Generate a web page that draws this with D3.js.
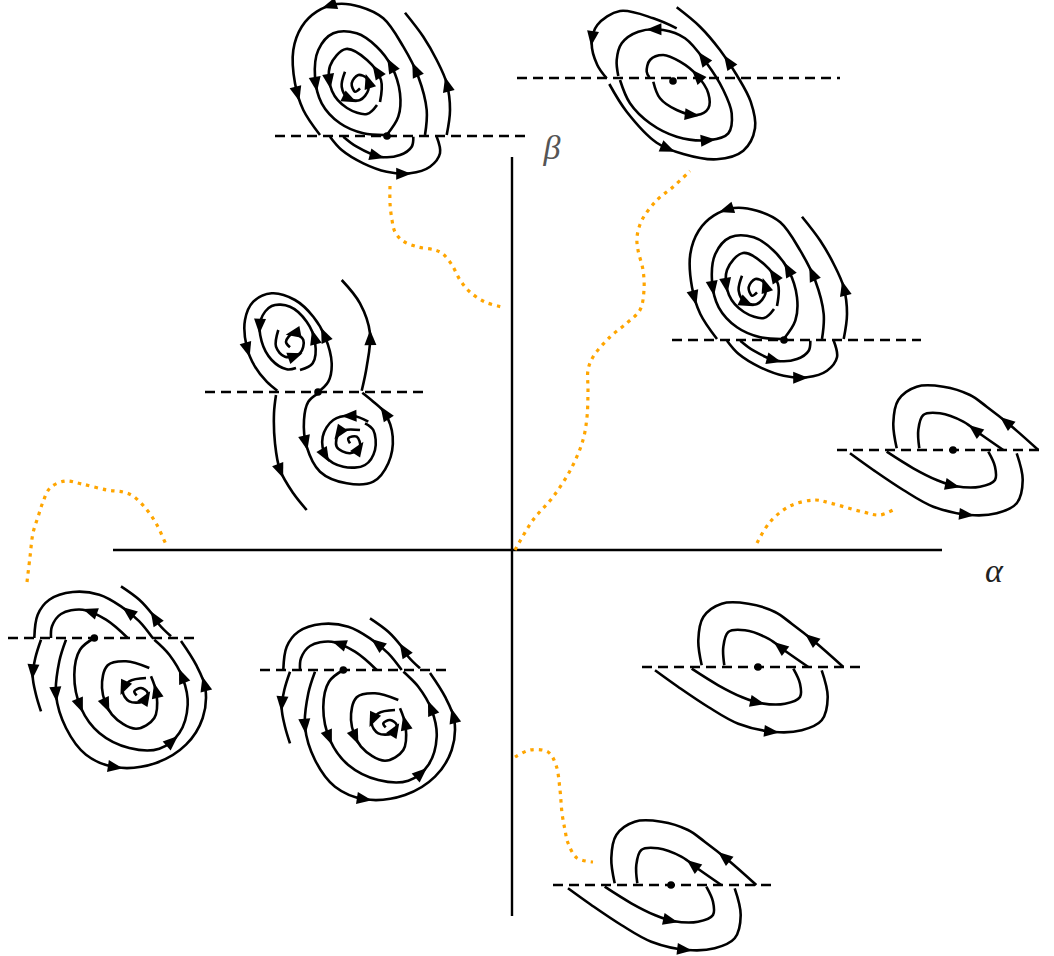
<!DOCTYPE html>
<html>
<head>
<meta charset="utf-8">
<script src="https://cdn.jsdelivr.net/npm/d3@7"></script>
<style>
  body { margin: 0; background: #fff; }
</style>
</head>
<body>
<div id="chart"></div>
<script>
const width = 1054;
const height = 956;

// parameter plane (alpha, beta), origin where the two axes cross
const alphaAxis = [-399, 430];
const betaAxis = [-366, 393];
const axisLabels = ["α", "β"];

// orange dotted bifurcation curves, [alpha, beta]
const curveNW = [[-122,364],[-122,347],[-120,330],[-117,318],[-109,309],[-94,303],[-77,300],[-69,296],[-60,285],[-52,270],[-42,258],[-27,248],[-10,243]];
const curveNE = [[3,0],[21,30],[41,53],[60,83],[71,110],[75,133],[76,160],[76,180],[81,193],[98,213],[115,227],[128,240],[132,260],[131,280],[126,300],[125,313],[130,330],[145,350],[161,363],[178,379]];
const curveW = [[-485,-32],[-482,-7],[-479,17],[-474,33],[-469,48],[-462,62],[-447,69],[-430,66],[-405,60],[-389,58],[-379,54],[-365,40],[-355,25],[-345,3]];
const curveE = [[245,7],[258,28],[278,44],[303,50],[318,47],[351,38],[368,35],[383,41]];
const curveS = [[3,-207],[18,-200],[36,-202],[44,-215],[48,-240],[50,-263],[53,-280],[56,-293],[65,-308],[81,-312]];
const bifCurves = [curveNW, curveNE, curveW, curveE, curveS];

// phase portrait pieces, local coords (y down), arrow positions as fraction of length
// focus above the section line
const focusOuter = { pts: [[73,47],[74.7,22],[66.3,-11.3],[51.3,-41.3],[31.3,-69.7],[8,-81.3],[-15.3,-84],[-35.3,-76.3],[-50.3,-61.3],[-58.7,-38],[-57,-4.7],[-48.7,22],[-32,47]], arrows: [0.2, 0.55, 0.86] };
const focusUOuter = { pts: [[-22,48.7],[-10.3,62],[11.3,75.3],[34.7,83.7],[58,85.3],[78,78.7],[88,65.3],[84.7,48.7]], arrows: [0.58] };
const focusUInner = { pts: [[-8.7,48.7],[4.7,58.7],[28,68.7],[48,67],[59.7,58.7],[61.3,48.7]], arrows: [0.45] };
const focusEscape = { pts: [[94.7,47],[98,22],[94.7,-4.7],[84.7,-28],[71.3,-51.3],[53,-75.3]], arrows: [0.38] };
const focusRing3 = { pts: [[34.7,47],[46.3,28.7],[48,5.3],[39.7,-21.3],[24.7,-41.3],[4.7,-54.7],[-18.7,-54.7],[-33.7,-38],[-37,-11.3],[-30.3,15.3],[-12,35.3],[11.3,45.3],[34.7,47]], arrows: [0.25, 0.68] };
const focusRing2 = { pts: [[28,14],[29,-8],[15,-28],[-6,-39],[-22,-22],[-20,3],[-5,20],[15,26],[25,17]], arrows: [0.18, 0.62] };
const focusCore = { pts: [[-7,-16.3],[-10.3,-1.3],[-3.7,10.3],[8,12],[16.3,2],[14.7,-9.7],[6.3,-13],[-0.3,-4.7],[3,3.7],[8,0.3]], arrows: [0.3, 0.62] };
const focusDots = [[35,48]];
const focusTemplate = [focusOuter, focusUOuter, focusUInner, focusEscape, focusRing3, focusRing2, focusCore];

// focus below the section line
const lowLeftDrop = { pts: [[-95,-51.3],[-100.7,-33],[-103.3,-14.7],[-100,3.7],[-95,20.3]], arrows: [0.45] };
const lowCapOuter = { pts: [[16.7,-53],[3.3,-69.7],[-15,-84.7],[-36.7,-96.3],[-63.3,-99],[-86.7,-91.3],[-98.3,-76.3],[-101.7,-53]], arrows: [0.22] };
const lowCapInner = { pts: [[-8.3,-53],[-30,-71.3],[-53.3,-81.3],[-75,-77],[-84,-64.7],[-85,-53]], arrows: [0.45] };
const lowEscape = { pts: [[35,-54.7],[23.3,-66.3],[16.7,-76.3],[3.3,-91.3],[-15,-104.7]], arrows: [0.35] };
const lowOuter = { pts: [[-70,-51.3],[-76.7,-29.7],[-80,3.7],[-70,37],[-50,63.7],[-20,76.3],[20,72],[50,53.7],[66.7,27],[69.3,-3],[60,-26.3],[45,-50]], arrows: [0.16, 0.45, 0.86] };
const lowRingB = { pts: [[-41.7,-53],[-56,-41.3],[-61.7,-16.3],[-55,17],[-36.7,42],[-6.7,57],[23.3,57.7],[43.3,42],[51.7,13.7],[46.7,-13],[33.3,-36.3],[18.3,-51.3]], arrows: [0.25, 0.62, 0.85] };
const lowRingA = { pts: [[13.3,-23],[-10,-29.7],[-28.3,-25.7],[-34,-3],[-24,23.7],[0,37.7],[18.3,27],[20.7,3.7],[15,-14.7]], arrows: [0.45, 0.92] };
const lowCore = { pts: [[10,-13],[-6.7,-9.7],[-13.3,0.3],[-6.7,10.3],[6.7,10.3],[11.7,2],[5,-3],[-1.7,0.3],[0.7,4.3]], arrows: [0.3, 0.7] };
const lowDots = [[-41.7,-53]];
const lowTemplate = [lowLeftDrop, lowCapOuter, lowCapInner, lowEscape, lowOuter, lowRingB, lowRingA, lowCore];

// single focus crossing the section line
const nodeInner = { pts: [[-19.7,0.7],[-13,17.3],[3.7,29],[23.7,34],[35.3,27.3],[35.3,12.3],[23.7,-6],[7,-19.3],[-9.7,-26],[-23,-21],[-26.3,-9.3],[-23.7,-3.7]], arrows: [0.3, 0.6] };
const nodeMiddle = { pts: [[-53,-1],[-43,22.3],[-23,42.3],[3.7,55.7],[37,59],[55.3,52.3],[58.7,32.3],[50.3,9],[33.7,-17.7],[12,-42.7],[-9.7,-51],[-34.7,-49.3],[-51.3,-37.7],[-56.3,-21],[-54.7,-5]], arrows: [0.33, 0.63, 0.8] };
const nodeOuterTop = { pts: [[3.7,-52.7],[-19.7,-62.7],[-53,-70],[-75.7,-56],[-81.3,-37.7],[-75.7,-16],[-66.3,-2.7]], arrows: [0.7] };
const nodeOuterLow = { pts: [[-63.7,3],[-46.3,30.7],[-16.3,61.7],[10.3,73],[43.7,78.3],[70.3,69.7],[82,47.3],[77.7,20.7],[63.7,-6],[47,-31],[27,-54.3],[3.7,-73.7]], arrows: [0.26, 0.78] };
const nodeDots = [[0,0]];
const nodeTemplate = [nodeInner, nodeMiddle, nodeOuterTop, nodeOuterLow];

// two foci joined at a point on the line
const twinUpper = { pts: [[-0.7,0.7],[10.3,-10.3],[13.7,-28.7],[7,-55.3],[-4.7,-75.3],[-23,-92],[-46.3,-98.7],[-64.7,-90.3],[-73,-72],[-71.3,-45.3],[-63,-25.3],[-51.3,-10.3],[-40.7,-1.3]], arrows: [0.25, 0.8] };
const twinDescend = { pts: [[-42,3],[-44,21.3],[-43,51.3],[-38,78],[-24.7,101.3],[-11.3,118]], arrows: [0.62] };
const twinUpperRing = { pts: [[-18,-22],[-5.3,-28.7],[-3,-50.3],[-11.3,-70.3],[-28,-85.3],[-46.3,-86],[-57.3,-72],[-56.3,-50.3],[-46.3,-32],[-31.3,-22.7],[-22,-24]], arrows: [0.22, 0.66] };
const twinUpperCore = { pts: [[-39.7,-62],[-42,-45.3],[-33,-35.3],[-18,-38.7],[-14.7,-52],[-24.7,-58.7],[-32,-50.3],[-28,-44.7]], arrows: [0.45, 0.8] };
const twinLower = { pts: [[0.3,1.3],[-9.7,9.7],[-14,28],[-11.3,54.7],[2,79.7],[28.7,91.3],[55.3,89.7],[70.3,71.3],[74.7,44.7],[67,21.3],[55.3,9.7],[44.3,0.7]], arrows: [0.22, 0.88] };
const twinAscend = { pts: [[43.7,-1.3],[48.7,-25.3],[52,-58.7],[42,-88.7],[23.7,-112]], arrows: [0.45] };
const twinLowerRing = { pts: [[50.3,29.7],[35.3,24],[15.3,28],[4.7,44.7],[8,64.7],[25.3,74.7],[47,73],[57,58],[55.3,38],[47,31.3]], arrows: [0.12, 0.45] };
const twinLowerCore = { pts: [[42,38],[22,39.7],[18.7,54.7],[32,61.3],[42,54.7],[38.7,44.7],[30.3,46.3],[32,51.3]], arrows: [0.25, 0.7] };
const twinDots = [[0,0]];
const twinTemplate = [twinUpper, twinDescend, twinUpperRing, twinUpperCore, twinLower, twinAscend, twinLowerRing, twinLowerCore];

// hooks around a point on the line
const hookCapOuter = { pts: [[85.3,0],[57,-25],[33.7,-43.3],[17,-55],[-9.7,-63.3],[-36.3,-63.3],[-54.7,-50],[-59.7,-26.7],[-56.3,-1.7]], arrows: [0.2] };
const hookCapInner = { pts: [[50.3,0],[28.7,-15],[10.3,-28.3],[-13,-36.7],[-29.7,-35],[-34.7,-20],[-33.7,-1.7]], arrows: [0.28] };
const hookUInner = { pts: [[-66.3,1.7],[-39.7,18.3],[-16.3,30],[2,36],[27,36.7],[42,30],[42,16.7],[35.3,1.7]], arrows: [0.5] };
const hookUOuter = { pts: [[-103,3.3],[-79.7,20],[-49.7,40],[-19.7,56.7],[17,65],[43.7,63.3],[63.7,53.3],[69.7,30],[63.7,3.3]], arrows: [0.56] };
const hookDots = [[0,0]];
const hookTemplate = [hookCapOuter, hookCapInner, hookUInner, hookUOuter];

// placement of each portrait in the (alpha, beta) plane
const portraitNames = ["P1", "P2", "P3", "P4", "P5", "P6", "P7", "P8", "P9"];
const portraitTemplates = [focusTemplate, nodeTemplate, focusTemplate, twinTemplate, hookTemplate, lowTemplate, lowTemplate, hookTemplate, hookTemplate];
const portraitDots = [focusDots, nodeDots, focusDots, twinDots, hookDots, lowDots, lowDots, hookDots, hookDots];
const portraitAt = [[-160,462],[161,469],[237,258],[-194,158],[441,100],[-376,-141],[-127,-173],[246,-117],[159,-335]];
const sectionLines = [[-77,173,48],[-156,167,-3],[-77,172,48],[-113,110,0],[-116,87,0],[-128,61,-53],[-125,65,-53],[-116,105,0],[-118,104,0]];

const svg = d3.select("#chart").append("svg")
  .attr("width", width)
  .attr("height", height)
  .style("font-family", "'Liberation Serif', 'DejaVu Serif', serif");

const x = d3.scaleLinear().domain([-512, 542]).range([0, width]);
const y = d3.scaleLinear().domain([-406, 550]).range([height, 0]);

// axes
svg.append("line")
  .attr("x1", x(alphaAxis[0])).attr("x2", x(alphaAxis[1]))
  .attr("y1", y(0)).attr("y2", y(0))
  .attr("stroke", "#000").attr("stroke-width", 2.4);
svg.append("line")
  .attr("x1", x(0)).attr("x2", x(0))
  .attr("y1", y(betaAxis[0])).attr("y2", y(betaAxis[1]))
  .attr("stroke", "#000").attr("stroke-width", 2.4);
svg.append("text")
  .attr("x", x(alphaAxis[1]) + 52).attr("y", y(0) + 32)
  .attr("text-anchor", "middle").attr("font-style", "italic")
  .attr("font-size", 34).attr("fill", "#222")
  .text(axisLabels[0]);
svg.append("text")
  .attr("x", x(0) + 40).attr("y", y(betaAxis[1]) + 2)
  .attr("text-anchor", "middle").attr("font-style", "italic")
  .attr("font-size", 34).attr("fill", "#555")
  .text(axisLabels[1]);

// bifurcation curves
const bifLine = d3.line()
  .x((d) => x(d[0]))
  .y((d) => y(d[1]))
  .curve(d3.curveCatmullRom.alpha(0.5));

svg.selectAll(".bif")
  .data(bifCurves)
  .enter()
  .append("path")
  .attr("class", "bif")
  .attr("d", bifLine)
  .attr("fill", "none")
  .attr("stroke", "#ffa500")
  .attr("stroke-width", 3.2)
  .attr("stroke-dasharray", "3.5,5");

// phase portraits
portraitNames.forEach((name, i) => {
  const [a, b] = portraitAt[i];
  const lx = d3.scaleLinear().domain([0, 1]).range([x(a), x(a) + 1]);
  const ly = d3.scaleLinear().domain([0, 1]).range([y(b), y(b) + 1]);
  const g = svg.append("g").attr("id", name);

  const [x0, x1, ys] = sectionLines[i];
  g.append("line")
    .attr("x1", lx(x0)).attr("x2", lx(x1))
    .attr("y1", ly(ys)).attr("y2", ly(ys))
    .attr("stroke", "#000").attr("stroke-width", 2.3)
    .attr("stroke-dasharray", "10,6");

  const orbit = d3.line()
    .x((d) => lx(d[0]))
    .y((d) => ly(d[1]))
    .curve(d3.curveCatmullRom.alpha(0.5));

  portraitTemplates[i].forEach((c) => {
    const path = g.append("path")
      .attr("d", orbit(c.pts))
      .attr("fill", "none")
      .attr("stroke", "#000")
      .attr("stroke-width", 2.6);
    const node = path.node();
    const L = node.getTotalLength();
    c.arrows.forEach((f) => {
      const p = node.getPointAtLength(f * L);
      const q = node.getPointAtLength(Math.min(L, f * L + 2));
      const r = node.getPointAtLength(Math.max(0, f * L - 2));
      const ang = (Math.atan2(q.y - r.y, q.x - r.x) * 180) / Math.PI;
      g.append("path")
        .attr("d", "M7.5,0L-7.5,-6L-7.5,6Z")
        .attr("fill", "#000")
        .attr("transform", `translate(${p.x},${p.y}) rotate(${ang})`);
    });
  });

  g.selectAll(".dot")
    .data(portraitDots[i])
    .enter()
    .append("circle")
    .attr("class", "dot")
    .attr("cx", (d) => lx(d[0]))
    .attr("cy", (d) => ly(d[1]))
    .attr("r", 3.8)
    .attr("fill", "#000");
});
</script>
</body>
</html>
